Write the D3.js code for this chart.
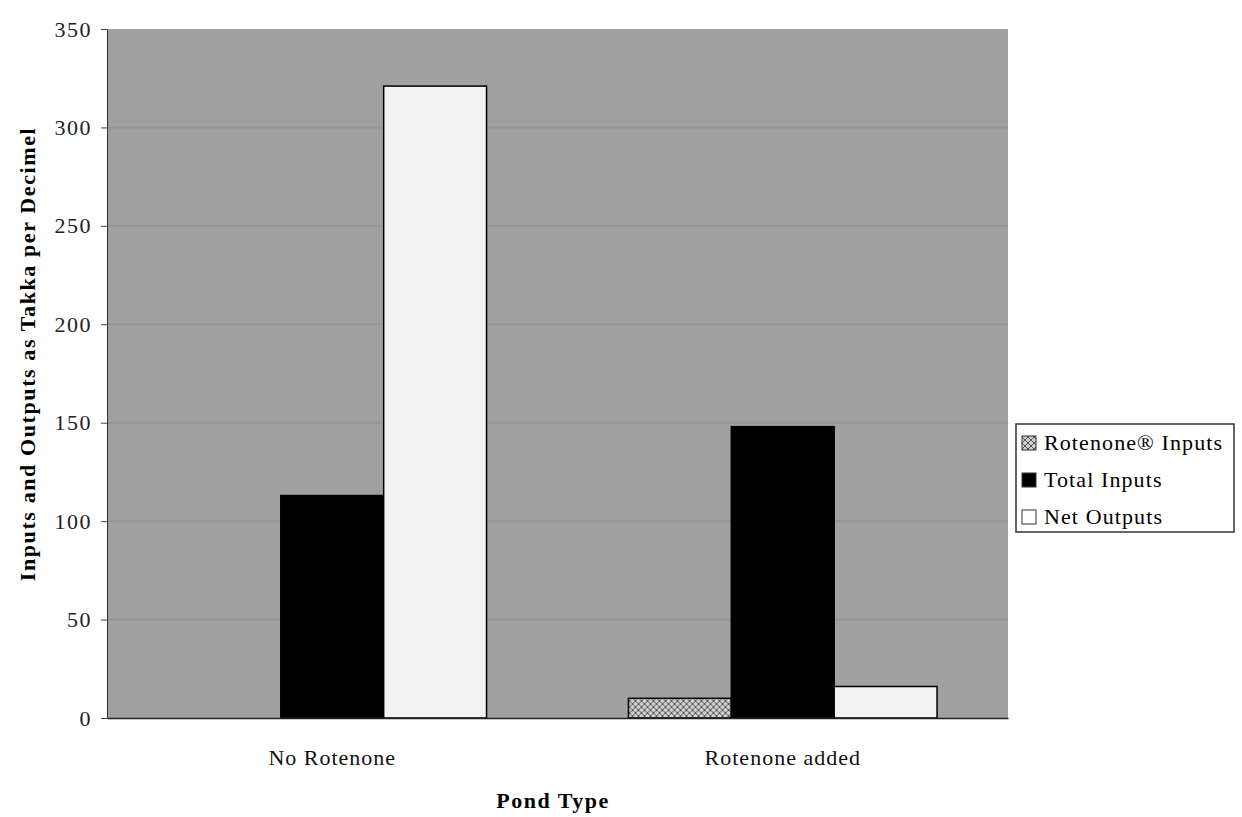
<!DOCTYPE html>
<html>
<head>
<meta charset="utf-8">
<script src="https://cdn.jsdelivr.net/npm/d3@7"></script>
<style>
  body { margin: 0; background: #fff; }
  svg { font-family: "Liberation Serif", "Times New Roman", serif; }
</style>
</head>
<body>
<svg width="1242" height="817"></svg>
<script>
var groups = ["No Rotenone", "Rotenone added"];
var series = ["Rotenone\u00AE Inputs", "Total Inputs", "Net Outputs"];
var rotenoneInputs = [0, 10];
var totalInputs = [113, 148];
var netOutputs = [321, 16];
var yTicks = [0, 50, 100, 150, 200, 250, 300, 350];

var svg = d3.select('svg');
var margin = {top: 29, right: 234, bottom: 99, left: 107};
var width = 1242 - margin.left - margin.right;
var height = 817 - margin.top - margin.bottom;

var defs = svg.append('defs');
var pat = defs.append('pattern')
    .attr('id', 'hatch')
    .attr('patternUnits', 'userSpaceOnUse')
    .attr('width', 6).attr('height', 6);
pat.append('rect').attr('width', 6).attr('height', 6).attr('fill', '#cfcfcf');
pat.append('path').attr('d', 'M0,0L6,6M6,0L0,6')
    .attr('stroke', '#555').attr('stroke-width', 1);

var g = svg.append('g')
    .attr('transform', 'translate(' + margin.left + ',' + margin.top + ')');

var x0 = d3.scaleBand().domain(groups).range([0, width]).padding(0);
var x1 = d3.scaleBand().domain(series).range([0, x0.bandwidth()])
    .paddingInner(0).paddingOuter(0.69);
var y = d3.scaleLinear().domain([0, 350]).range([height, 0]);

// plot background
g.append('rect')
    .attr('width', width).attr('height', height)
    .attr('fill', '#a0a0a0');

// faint gridlines
g.selectAll('.grid')
    .data(yTicks.slice(1, -1))
    .enter().append('line')
    .attr('x1', 0).attr('x2', width)
    .attr('y1', function(d){ return y(d); })
    .attr('y2', function(d){ return y(d); })
    .attr('stroke', '#949494').attr('stroke-width', 2);

var rows = groups.map(function(gr, i) {
    return [
        {group: gr, key: series[0], value: rotenoneInputs[i], fill: 'url(#hatch)'},
        {group: gr, key: series[1], value: totalInputs[i], fill: '#000'},
        {group: gr, key: series[2], value: netOutputs[i], fill: '#f2f2f2'}
    ];
});

g.selectAll('.grp')
    .data(rows)
    .enter().append('g')
    .attr('transform', function(d){ return 'translate(' + x0(d[0].group) + ',0)'; })
    .selectAll('rect')
    .data(function(d){ return d; })
    .enter().append('rect')
    .attr('x', function(d){ return x1(d.key); })
    .attr('width', x1.bandwidth())
    .attr('y', function(d){ return y(d.value); })
    .attr('height', function(d){ return height - y(d.value); })
    .attr('fill', function(d){ return d.fill; })
    .attr('stroke', '#000').attr('stroke-width', 1.5);

// axes
var yAxis = g.append('g')
    .call(d3.axisLeft(y).tickValues(yTicks).tickSize(6).tickPadding(9));
yAxis.selectAll('text').attr('font-size', 22).attr('fill', '#222')
    .attr('letter-spacing', 1.5)
    .attr('font-family', '"Liberation Serif", serif');
yAxis.selectAll('line').attr('stroke', '#444');
yAxis.select('.domain').attr('stroke', '#333');

var xAxis = g.append('g')
    .attr('transform', 'translate(0,' + height + ')')
    .call(d3.axisBottom(x0).tickSize(0).tickPadding(31));
xAxis.selectAll('text').attr('font-size', 22).attr('fill', '#111')
    .attr('letter-spacing', 1)
    .attr('font-family', '"Liberation Serif", serif');
xAxis.select('.domain').attr('stroke', '#222').attr('stroke-width', 1.5);

// axis titles
svg.append('text')
    .attr('transform', 'translate(35,' + 354 + ') rotate(-90)')
    .attr('text-anchor', 'middle')
    .attr('font-size', 22).attr('font-weight', 'bold')
    .attr('letter-spacing', 1.6)
    .text('Inputs and Outputs as Takka per Decimel');

svg.append('text')
    .attr('x', 553).attr('y', 808)
    .attr('text-anchor', 'middle')
    .attr('font-size', 22).attr('font-weight', 'bold')
    .attr('letter-spacing', 1.5)
    .text('Pond Type');

// legend
var legend = svg.append('g').attr('transform', 'translate(1016,424)');
legend.append('rect')
    .attr('width', 218).attr('height', 108)
    .attr('fill', '#fff').attr('stroke', '#333').attr('stroke-width', 1.5);
var fills = ['url(#hatch)', '#000', '#fff'];
var li = legend.selectAll('.li')
    .data(series)
    .enter().append('g')
    .attr('transform', function(d, i){ return 'translate(6,' + (19 + i * 37) + ')'; });
li.append('rect')
    .attr('y', -7).attr('width', 14).attr('height', 14)
    .attr('fill', function(d, i){ return fills[i]; })
    .attr('stroke', '#333');
li.append('text')
    .attr('x', 22).attr('y', 7)
    .attr('font-size', 22)
    .attr('letter-spacing', 1.1)
    .text(function(d){ return d; });
</script>
</body>
</html>
